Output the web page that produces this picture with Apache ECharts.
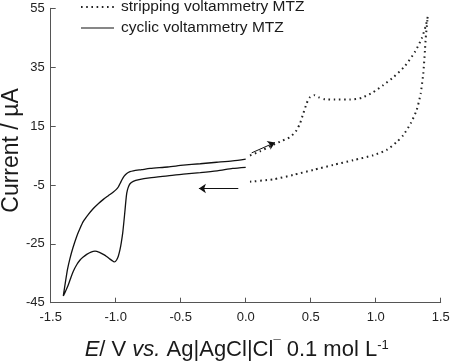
<!DOCTYPE html>
<html>
<head>
<meta charset="utf-8">
<script src="https://cdn.jsdelivr.net/npm/echarts@6/dist/echarts.min.js"></script>
<style>html,body{margin:0;padding:0;background:#fff;}#c{width:450px;height:363px;}</style>
</head>
<body>
<div id="c"></div>
<script>
// Cyclic voltammetry MTZ (potential V, current µA)
var cvE = [0.00,-0.10,-0.22,-0.35,-0.48,-0.60,-0.74,-0.82,-0.865,-0.89,-0.905,-0.915,-0.922,-0.928,-0.937,-0.946,-0.957,-0.967,-0.980,-0.992,-1.003,-1.012,-1.025,-1.044,-1.07,-1.095,-1.125,-1.159,-1.19,-1.223,-1.25,-1.274,-1.30,-1.326,-1.345,-1.365,-1.385,-1.403,
           -1.385,-1.37,-1.352,-1.33,-1.30,-1.275,-1.249,-1.21,-1.172,-1.13,-1.095,-1.055,-1.018,-0.995,-0.98,-0.965,-0.954,-0.935,-0.915,-0.89,-0.865,-0.80,-0.736,-0.60,-0.48,-0.35,-0.223,-0.10,0.00];
var cvI = [1.0,0.6,-0.2,-0.8,-1.3,-1.9,-2.6,-3.2,-3.8,-4.6,-6.0,-7.8,-10.5,-13.4,-17.5,-21.3,-24.6,-27.0,-29.2,-30.4,-31.0,-31.1,-30.8,-30.2,-29.3,-28.6,-27.9,-27.5,-27.8,-28.6,-29.5,-30.5,-32.1,-34.3,-36.5,-39.0,-41.0,-42.7,
           -37.5,-33.5,-30.0,-26.5,-22.5,-19.8,-17.4,-15.0,-13.0,-11.2,-9.9,-8.6,-7.4,-6.5,-5.7,-4.4,-3.4,-2.0,-1.1,-0.5,-0.2,0.2,0.6,1.1,1.7,2.2,2.7,3.2,3.8];
// Stripping voltammetry MTZ
var swE = [0.033,0.11,0.19,0.28,0.34,0.367,0.392,0.418,0.443,0.469,0.49,0.525,0.56,0.61,0.687,0.802,0.892,0.977,1.058,1.14,1.225,1.302,1.354,1.387,1.40,
           1.385,1.379,1.366,1.346,1.315,1.269,1.212,1.162,1.085,0.982,0.828,0.674,0.52,0.366,0.212,0.033];
var swI = [5.0,6.4,8.2,10.0,11.2,12.3,13.6,15.9,19.3,22.7,24.6,25.5,24.8,24.1,24.0,24.0,24.6,26.4,28.9,31.7,35.4,40.2,44.8,49.3,52.1,
           45.0,40.8,32.9,26.1,20.4,15.9,11.9,9.6,6.9,5.1,3.4,1.8,0.1,-1.6,-3.1,-3.9];
// Scan direction arrows [startE, startI, endE, endI]
var arrowUp = [0.046, 5.9, 0.225, 9.4];
var arrowLeft = [-0.057, -6.2, -0.36, -6.2];
var yTicks = [-45, -25, -5, 15, 35, 55];
var xTicks = [-1.5, -1.0, -0.5, 0.0, 0.5, 1.0, 1.5];
var seriesNames = ['stripping voltammetry MTZ', 'cyclic voltammetry MTZ'];

function pairs(a, b) { return a.map(function (v, i) { return [v, b[i]]; }); }

var chart = echarts.init(document.getElementById('c'), null, {renderer: 'canvas'});
var font = 'Liberation Sans, Arial, sans-serif';
chart.setOption({
  animation: false,
  backgroundColor: '#fff',
  grid: {left: 50.7, right: 9.3, top: 8.3, bottom: 60.3, containLabel: false, outerBoundsMode: 'none'},
  legend: {
    orient: 'vertical', left: 80, top: -1, padding: 0,
    itemWidth: 33, itemHeight: 14, itemGap: 5,
    itemStyle: {opacity: 0},
    textStyle: {fontFamily: font, fontSize: 15.5, color: '#1a1a1a', padding: [0, 0, 0, 2]},
    data: [
      {name: seriesNames[0], lineStyle: {width: 2, type: [1.6, 3.6], color: '#222'}},
      {name: seriesNames[1], lineStyle: {width: 1.2, type: 'solid', color: '#111'}}
    ]
  },
  xAxis: {
    type: 'value', min: -1.5, max: 1.5, interval: 0.5,
    axisLine: {show: true, onZero: false, lineStyle: {color: '#555', width: 1}},
    axisTick: {show: true, inside: true, length: 5, lineStyle: {color: '#555'}, customValues: xTicks},
    axisLabel: {fontFamily: font, fontSize: 13, color: '#222', margin: 8, customValues: xTicks,
      formatter: function (v) { return v.toFixed(1); }},
    splitLine: {show: false},
    name: '{i|E}/ V {i|vs.} Ag|AgCl|Cl{sup|¯} 0.1 mol L{sup|-1}',
    nameLocation: 'middle', nameGap: 36, nameMoveOverlap: false,
    nameTextStyle: {fontFamily: font, fontSize: 22, color: '#1a1a1a', padding: [0, 18, 0, 0],
      rich: {
        i: {fontFamily: font, fontSize: 22, fontStyle: 'italic', color: '#1a1a1a'},
        sup: {fontFamily: font, fontSize: 13, color: '#1a1a1a', verticalAlign: 'top', padding: [0, 0, 8, 0]}
      }}
  },
  yAxis: {
    type: 'value', min: -45, max: 55,
    axisLine: {show: true, onZero: false, lineStyle: {color: '#555', width: 1}},
    axisTick: {show: true, inside: true, length: 5, lineStyle: {color: '#555'}, customValues: yTicks},
    axisLabel: {fontFamily: font, fontSize: 13, color: '#222', margin: 6, customValues: yTicks},
    splitLine: {show: false},
    name: 'Current / µA', nameLocation: 'middle', nameGap: 28, nameRotate: 90, nameMoveOverlap: false,
    nameTextStyle: {fontFamily: font, fontSize: 23, color: '#1a1a1a', padding: [0, 0, 0, 10]}
  },
  series: [
    {
      name: seriesNames[0], type: 'line', data: pairs(swE, swI), showSymbol: false, symbol: 'none',
      smooth: 0.2, silent: true,
      lineStyle: {color: '#222', width: 2, type: [1.6, 3.6], cap: 'butt'},
      itemStyle: {color: '#222'}
    },
    {
      name: seriesNames[1], type: 'line', data: pairs(cvE, cvI), showSymbol: false, symbol: 'none',
      smooth: 0.25, silent: true,
      lineStyle: {color: '#111', width: 1.3},
      itemStyle: {color: '#111'},
      markLine: {
        silent: true, symbol: ['none', 'arrow'], symbolSize: 7,
        label: {show: false},
        lineStyle: {color: '#111', width: 1, type: 'solid'},
        emphasis: {disabled: true},
        data: [
          [{coord: [arrowUp[0], arrowUp[1]]}, {coord: [arrowUp[2], arrowUp[3]]}],
          [{coord: [arrowLeft[0], arrowLeft[1]]}, {coord: [arrowLeft[2], arrowLeft[3]]}]
        ]
      }
    }
  ]
});
</script>
</body>
</html>
